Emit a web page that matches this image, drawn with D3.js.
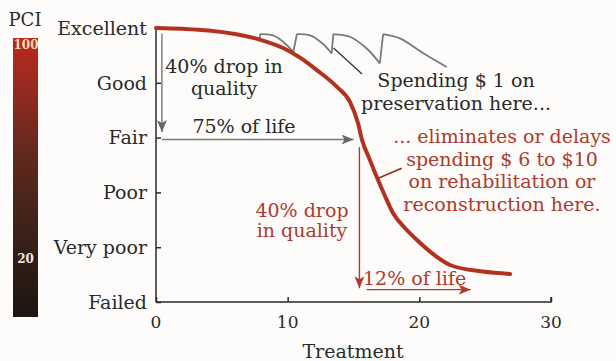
<!DOCTYPE html>
<html>
<head>
<meta charset="utf-8">
<script src="https://cdn.jsdelivr.net/npm/d3@7"></script>
<style>
  html, body { margin: 0; padding: 0; background: #fdfcfa; }
  svg { display: block; }
  text { font-family: "DejaVu Serif", serif; }
</style>
</head>
<body>
<svg id="chart" width="616" height="361"></svg>
<script>
// Condition rating levels (PCI) and their labels
const levelValues = [0, 20, 40, 60, 80, 100];
const levelLabels = ["Failed", "Very poor", "Poor", "Fair", "Good", "Excellent"];

// Treatment (years) axis ticks
const xTickValues = [0, 10, 20, 30];

// Pavement deterioration curve: time vs PCI
const lifeT   = [0, 2, 4, 6, 8, 9.7, 11, 12.2, 13.72, 14.73, 15.34, 15.65, 16.18, 16.76, 17.39, 18.0, 18.91, 19.82, 21.32, 22.33, 24.83, 26.89];
const lifePCI = [100, 99.7, 99.1, 97.8, 95.6, 92.6, 89, 84.7, 78.6, 73.0, 65.3, 59.1, 52.6, 45.7, 38.7, 32.5, 27.0, 22.6, 16.5, 13.5, 11.1, 10.2];

// Preservation cycles: each tooth restores condition, then decays again
const preservationStart = [7.89, 95.6];
const preservationT = [
  [7.89, 8.89, 9.65, 10.43],
  [10.7, 11.7, 12.58, 13.34],
  [13.47, 14.73, 15.98, 17.0],
  [17.25, 18.53, 20.3, 22.08]
];
const preservationPCI = [
  [97.8, 97.3, 95.0, 91.3],
  [97.8, 97.3, 94.6, 90.7],
  [97.8, 96.8, 92.6, 87.1],
  [97.8, 96.2, 90.8, 85.8]
];

// Colour bar labels
const pciBarLabels = ["100", "20"];

const svg = d3.select("#chart");

const x = d3.scaleLinear().domain([0, 30]).range([156, 551]);
const y = d3.scaleLinear().domain([0, 100]).range([302, 28]);

const ink = "#2a2a2a";
const red = "#b3311f";
const annoRed = "#ad3a2c";
const gray = "#7a7a7a";
const fs = 19;

// ---- PCI colour bar ----
const defs = svg.append("defs");
const grad = defs.append("linearGradient").attr("id", "pciGrad")
  .attr("x1", 0).attr("y1", 0).attr("x2", 0).attr("y2", 1);
[[0, "#ba281f"], [0.15, "#9e2a1f"], [0.4, "#64291d"], [0.7, "#3a2119"], [1, "#1c1511"]]
  .forEach(([o, c]) => grad.append("stop").attr("offset", o).attr("stop-color", c));

svg.append("rect").attr("x", 13).attr("y", 38).attr("width", 25).attr("height", 279)
  .attr("fill", "url(#pciGrad)");
svg.append("text").attr("x", 25).attr("y", 26).attr("text-anchor", "middle")
  .attr("font-size", 18).attr("fill", ink).text("PCI");
svg.append("text").attr("x", 26).attr("y", 48.5).attr("text-anchor", "middle")
  .attr("font-family", "DejaVu Sans Condensed").attr("font-weight", "bold")
  .attr("font-size", 12).attr("fill", "#f3dcae").text(pciBarLabels[0]);
svg.append("text").attr("x", 25.5).attr("y", 263).attr("text-anchor", "middle")
  .attr("font-family", "DejaVu Sans Condensed").attr("font-weight", "bold")
  .attr("font-size", 12).attr("fill", "#ece4dc").text(pciBarLabels[1]);

// ---- Axes ----
const yAxis = d3.axisRight(y).tickValues(levelValues).tickSize(5).tickFormat("");
const gy = svg.append("g").attr("transform", `translate(${x(0)},0)`).call(yAxis);
gy.select(".domain").attr("stroke", ink).attr("stroke-width", 1.5).attr("d", `M5,${y(100)}H0V${y(0)}`);
gy.selectAll(".tick line").attr("stroke", ink).attr("stroke-width", 1.5);

svg.append("g").selectAll("text").data(levelValues).join("text")
  .attr("x", 147).attr("y", d => y(d)).attr("dy", "0.36em")
  .attr("text-anchor", "end").attr("font-size", fs).attr("fill", ink)
  .text((d, i) => levelLabels[i]);

const xAxis = d3.axisTop(x).tickValues(xTickValues).tickSize(5).tickFormat("");
const gx = svg.append("g").attr("transform", `translate(0,${y(0)})`).call(xAxis);
gx.select(".domain").attr("stroke", ink).attr("stroke-width", 1.5).attr("d", `M${x(0)},0H${x(30)}V-5`);
gx.selectAll(".tick line").attr("stroke", ink).attr("stroke-width", 1.5);

svg.append("g").selectAll("text").data(xTickValues).join("text")
  .attr("x", d => x(d)).attr("y", 328).attr("text-anchor", "middle")
  .attr("font-size", 17).attr("fill", ink).text(d => d);

svg.append("text").attr("x", 353).attr("y", 358).attr("text-anchor", "middle")
  .attr("font-size", fs).attr("fill", ink).text("Treatment");

// ---- Arrow markers ----
function marker(id, color) {
  defs.append("marker").attr("id", id).attr("viewBox", "0 0 12 10")
    .attr("refX", 12).attr("refY", 5).attr("markerWidth", 12).attr("markerHeight", 10)
    .attr("markerUnits", "userSpaceOnUse").attr("orient", "auto")
    .append("path").attr("d", "M0,0L12,5L0,10L3,5Z").attr("fill", color);
}
marker("arrGray", "#666");
marker("arrRed", annoRed);

// ---- Preservation sawtooth ----
const toothLine = d3.line().curve(d3.curveCatmullRom.alpha(0.5));
const sawG = svg.append("g").attr("fill", "none").attr("stroke", gray).attr("stroke-width", 1.8);
// initial jump from the deterioration curve
sawG.append("line")
  .attr("x1", x(preservationStart[0])).attr("y1", y(preservationStart[1]))
  .attr("x2", x(preservationT[0][0])).attr("y2", y(preservationPCI[0][0]));
preservationT.forEach((ts, i) => {
  const pts = ts.map((t, j) => [x(t), y(preservationPCI[i][j])]);
  sawG.append("path").attr("d", toothLine(pts));
  if (i < preservationT.length - 1) {
    sawG.append("line")
      .attr("x1", pts[pts.length - 1][0]).attr("y1", pts[pts.length - 1][1])
      .attr("x2", x(preservationT[i + 1][0])).attr("y2", y(preservationPCI[i + 1][0]));
  }
});

// leader from the preservation treatments to their caption
svg.append("line").attr("x1", 333.5).attr("y1", 48).attr("x2", 362).attr("y2", 74)
  .attr("stroke", "#333").attr("stroke-width", 1.3);

// ---- Gray annotation arrows (first 75% of life) ----
svg.append("line").attr("x1", x(0.45)).attr("y1", y(98)).attr("x2", x(0.45)).attr("y2", y(62))
  .attr("stroke", gray).attr("stroke-width", 1.4).attr("marker-end", "url(#arrGray)");
svg.append("line").attr("x1", x(0.45)).attr("y1", y(59.3)).attr("x2", x(15)).attr("y2", y(59.3))
  .attr("stroke", gray).attr("stroke-width", 1.4).attr("marker-end", "url(#arrGray)");

// ---- Red annotation arrows (next 12% of life) ----
svg.append("line").attr("x1", x(15.45)).attr("y1", y(56.5)).attr("x2", x(15.45)).attr("y2", y(5))
  .attr("stroke", annoRed).attr("stroke-width", 1.4).attr("marker-end", "url(#arrRed)");
svg.append("line").attr("x1", x(16.0)).attr("y1", y(4.5)).attr("x2", x(23.9)).attr("y2", y(4.5))
  .attr("stroke", annoRed).attr("stroke-width", 1.4).attr("marker-end", "url(#arrRed)");

// leader from the rehabilitation caption to the curve
svg.append("line").attr("x1", 401.7).attr("y1", 168.3).attr("x2", 378.3).attr("y2", 178.3)
  .attr("stroke", "#8e2a1e").attr("stroke-width", 1.5);

// ---- Deterioration curve ----
const lifeLine = d3.line().curve(d3.curveMonotoneX)
  .x((d, i) => x(lifeT[i])).y((d, i) => y(lifePCI[i]));
svg.append("path").attr("d", lifeLine(lifeT))
  .attr("fill", "none").attr("stroke", red).attr("stroke-width", 4)
  .attr("stroke-linecap", "round");

// ---- Captions ----
function caption(lines, cx, y0, dy, color, size) {
  const t = svg.append("text").attr("text-anchor", "middle").attr("font-size", size).attr("fill", color);
  lines.forEach((s, i) => t.append("tspan").attr("x", cx).attr("y", y0 + i * dy).text(s));
}
caption(["40% drop in", "quality"], 224, 73, 22, ink, fs);
caption(["75% of life"], 244, 133, 0, ink, fs);
caption(["Spending $ 1 on", "preservation here..."], 456, 87, 23, ink, fs);
caption(["... eliminates or delays", "spending $ 6 to $10", "on rehabilitation or", "reconstruction here."],
        502, 143, 22.5, annoRed, fs);
caption(["40% drop", "in quality"], 302, 217, 20, annoRed, fs);
svg.append("text").attr("x", 363).attr("y", 285).attr("font-size", fs).attr("fill", annoRed).text("12% of life");
</script>
</body>
</html>
